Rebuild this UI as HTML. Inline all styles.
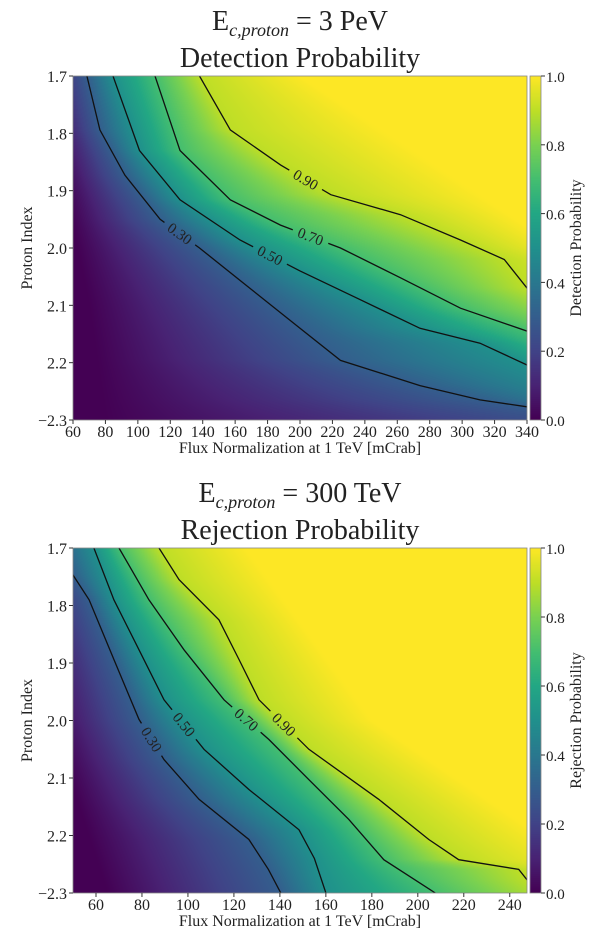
<!DOCTYPE html>
<html><head><meta charset="utf-8">
<style>
body{margin:0;background:#fff;width:600px;height:944px;overflow:hidden;font-family:"Liberation Serif",serif;}
svg text{font-family:"Liberation Serif",serif;fill:#222;}
</style></head>
<body>
<div style="position:relative;width:600px;height:944px;">
<canvas id="c1" width="454" height="344" style="position:absolute;left:73px;top:76px;"></canvas>
<canvas id="c2" width="454" height="345" style="position:absolute;left:73px;top:548px;"></canvas>
<canvas id="cb1" width="11" height="344" style="position:absolute;left:530px;top:76px;"></canvas>
<canvas id="cb2" width="11" height="345" style="position:absolute;left:530px;top:548px;"></canvas>
<svg id="ov" width="600" height="944" style="position:absolute;left:0;top:0;"></svg>
</div>
<script>
// ---- data: contour positions (proton index -> flux) ----
const levels=[0.30,0.50,0.70,0.90];
const topIdx30=[1.7,1.794,1.873,1.95,2.0,2.07,2.14,2.196,2.24,2.265,2.277,2.3];
const topFlux30=[68.6,76.6,92,113.7,138,169,200,225,274,311,340,400];
const topIdx50=[1.7,1.83,1.916,1.986,2.04,2.09,2.14,2.166,2.204,2.3];
const topFlux50=[84.7,101,126,163,200,237,274,311,340,420];
const topIdx70=[1.7,1.83,1.916,1.96,2.0,2.052,2.105,2.145,2.3];
const topFlux70=[110.6,126,157,188,225,262,299,340,450];
const topIdx90=[1.7,1.794,1.855,1.907,1.942,1.986,2.02,2.07,2.3];
const topFlux90=[138,157,188,219,262,299,326,340,520];
const topIdx0=[1.7,1.9,2.1,2.3];
const topFlux0=[40,55,70,80];
const topIdx1=[1.7,2.0,2.3];
const topFlux1=[200,360,700];

const botIdx30=[1.7,1.747,1.79,1.894,1.998,2.068,2.137,2.207,2.259,2.3];
const botFlux30=[45,50,57,67.8,78.7,89.6,104.8,126.5,135,140.4];
const botIdx50=[1.7,1.79,1.877,1.964,2.05,2.12,2.19,2.24,2.3];
const botFlux50=[59.1,67.8,78.7,89.6,107,126.5,148.3,155,160];
const botIdx70=[1.7,1.79,1.877,1.964,2.033,2.103,2.172,2.242,2.3];
const botFlux70=[70,83,98.3,115.7,135.2,152.6,170,185.2,207.6];
const botIdx90=[1.7,1.755,1.825,1.894,1.964,2.05,2.137,2.207,2.242,2.259,2.277,2.3];
const botFlux90=[87.4,96.1,113.5,122.2,130.9,152.6,183,204.8,217.8,243.9,247.5,255];
const botIdx0=[1.7,2.0,2.3];
const botFlux0=[25,40,65];
const botIdx1=[1.7,2.0,2.3];
const botFlux1=[125,180,290];

const topXTicks=[60,80,100,120,140,160,180,200,220,240,260,280,300,320,340];
const botXTicks=[60,80,100,120,140,160,180,200,220,240];
const yTicks=[1.7,1.8,1.9,2.0,2.1,2.2,2.3];
const yTickLabels=["1.7","1.8","1.9","2.0","2.1","2.2","\u22122.3"];
const cbTicks=[0,0.2,0.4,0.6,0.8,1.0];
const cbLabels=["0.0","0.2","0.4","0.6","0.8","1.0"];

const VIR=[[68,1,84],[72,35,116],[64,67,135],[52,94,141],[41,120,142],[32,144,140],[34,167,132],[68,190,112],[121,209,81],[189,222,38],[253,231,37]];
function vir(t){t=Math.max(0,Math.min(1,t));const s=t*10,i=Math.min(9,Math.floor(s)),f=s-i;const a=VIR[i],b=VIR[i+1];return [0,1,2].map(k=>Math.round(a[k]+(b[k]-a[k])*f));}
function interp(xs,ys,x){if(x<=xs[0])return ys[0]+(ys[1]-ys[0])*(x-xs[0])/(xs[1]-xs[0]);const n=xs.length;if(x>=xs[n-1])return ys[n-1];for(let i=0;i<n-1;i++)if(x<=xs[i+1])return ys[i]+(ys[i+1]-ys[i])*(x-xs[i])/(xs[i+1]-xs[i]);}
const NS='http://www.w3.org/2000/svg';
const ov=document.getElementById('ov');
function mk(tag,attrs,txt){const e=document.createElementNS(NS,tag);for(const k in attrs)e.setAttribute(k,attrs[k]);if(txt!==undefined)e.textContent=txt;return e;}
function el(tag,attrs,txt){const e=mk(tag,attrs,txt);ov.appendChild(e);return e;}

function panel(cfg){
  const {canvas,cb,left,top,w,h,xmin,xmax,contours,p0,p1,xTicks,title1,title2,cbTitle,labelIdx}=cfg;
  const sx=f=>left+(f-xmin)/(xmax-xmin)*w;
  const sy=v=>top+(v-1.7)/0.6*h;
  const ctx=document.getElementById(canvas).getContext('2d');
  const img=ctx.createImageData(w,h);
  for(let py=0;py<h;py++){
    const idx=1.7+(py+0.5)/h*0.6;
    const xs=[interp(p0[0],p0[1],idx)];const ps=[0];
    contours.forEach((c,i)=>{xs.push(interp(c[0],c[1],idx));ps.push(levels[i]);});
    xs.push(Math.max(interp(p1[0],p1[1],idx),xs[xs.length-1]+1));ps.push(1);
    for(let k=1;k<xs.length;k++)if(xs[k]<=xs[k-1])xs[k]=xs[k-1]+0.5;
    for(let px=0;px<w;px++){
      const f=xmin+(px+0.5)/w*(xmax-xmin);
      let p;
      if(f<=xs[0])p=0;else if(f>=xs[xs.length-1])p=1;
      else{for(let k=0;k<xs.length-1;k++)if(f<=xs[k+1]){p=ps[k]+(ps[k+1]-ps[k])*(f-xs[k])/(xs[k+1]-xs[k]);break;}}
      const c=vir(p);const o=(py*w+px)*4;img.data[o]=c[0];img.data[o+1]=c[1];img.data[o+2]=c[2];img.data[o+3]=255;
    }
  }
  ctx.putImageData(img,0,0);
  const cctx=document.getElementById(cb).getContext('2d');
  for(let y=0;y<h;y++){const c=vir(1-y/(h-1));cctx.fillStyle=`rgb(${c[0]},${c[1]},${c[2]})`;cctx.fillRect(0,y,11,1);}
  const cid='clip'+canvas, mid='mask'+canvas;
  const defs=el('defs',{});
  const cp=mk('clipPath',{id:cid});cp.appendChild(mk('rect',{x:left,y:top,width:w,height:h}));defs.appendChild(cp);
  const mask=mk('mask',{id:mid,maskUnits:'userSpaceOnUse',x:0,y:0,width:600,height:944});
  mask.appendChild(mk('rect',{x:0,y:0,width:600,height:944,fill:'#fff'}));
  defs.appendChild(mask);
  const g=el('g',{'clip-path':`url(#${cid})`});
  contours.forEach((c,i)=>{
    const pts=c[0].map((v,j)=>sx(c[1][j]).toFixed(1)+','+sy(v).toFixed(1)).join(' ');
    const pl=mk('polyline',{points:pts,fill:'none',stroke:'#111','stroke-width':1.3,mask:`url(#${mid})`});
    
    
    g.appendChild(pl);
    const j=labelIdx[i];const x0=sx(c[1][j]),y0=sy(c[0][j]),x1=sx(c[1][j+1]),y1=sy(c[0][j+1]);
    const mx=(x0+x1)/2,my=(y0+y1)/2;const ang=Math.atan2(y1-y0,x1-x0)*180/Math.PI;
    const tr=`rotate(${ang.toFixed(1)} ${mx.toFixed(1)} ${my.toFixed(1)})`;
    mask.appendChild(mk('rect',{x:mx-19,y:my-9,width:38,height:18,fill:'#000',transform:tr}));
    const t=el('text',{x:mx,y:my+5,'font-size':15,'text-anchor':'middle',transform:tr},levels[i].toFixed(2));
    
    
  });
  const fr=el('rect',{x:left,y:top,width:w,height:h,fill:'none',stroke:'#888','stroke-width':0.8});
  
  const cf=el('rect',{x:530,y:top,width:11,height:h,fill:'none',stroke:'#888','stroke-width':0.8});
  
  xTicks.forEach(v=>{const x=sx(v);el('line',{x1:x,y1:top+h,x2:x,y2:top+h+4,stroke:'#333'});
    const t=el('text',{x:x,y:top+h+17,'font-size':16,'text-anchor':'middle'},String(v));
    });
  yTicks.forEach((v,i)=>{const y=sy(v);el('line',{x1:left-4,y1:y,x2:left,y2:y,stroke:'#333'});
    const t=el('text',{x:left-6,y:y+6,'font-size':16,'text-anchor':'end'},yTickLabels[i]);
    });
  cbTicks.forEach((v,i)=>{const y=top+h-v*h;el('line',{x1:541,y1:y,x2:545,y2:y,stroke:'#333'});
    const t=el('text',{x:546,y:y+6,'font-size':15},cbLabels[i]);
    });
  const xl=el('text',{x:left+w/2,y:top+h+33,'font-size':16,'text-anchor':'middle'},'Flux Normalization at 1 TeV [mCrab]');
  
  const yl=el('text',{x:0,y:0,'font-size':16,'text-anchor':'middle',transform:`translate(32 ${top+h/2}) rotate(-90)`},'Proton Index');
  
  const cl=el('text',{x:0,y:0,'font-size':16,'text-anchor':'middle',transform:`translate(581 ${top+h/2}) rotate(-90)`},cbTitle);
  
  const t1=el('text',{x:300,y:top-46,'font-size':28,'text-anchor':'middle'});
  t1.innerHTML=`E<tspan font-size="18" font-style="italic" dy="6">c,proton</tspan><tspan dy="-6"> = ${title1}</tspan>`;
  
  const t2=el('text',{x:300,y:top-9,'font-size':28,'text-anchor':'middle'},title2);
  
}
panel({canvas:'c1',cb:'cb1',left:73,top:76,w:454,h:344,xmin:60,xmax:340,
  contours:[[topIdx30,topFlux30],[topIdx50,topFlux50],[topIdx70,topFlux70],[topIdx90,topFlux90]],
  p0:[topIdx0,topFlux0],p1:[topIdx1,topFlux1],xTicks:topXTicks,title1:'3 PeV',title2:'Detection Probability',
  cbTitle:'Detection Probability',labelIdx:[3,3,3,2]});
panel({canvas:'c2',cb:'cb2',left:73,top:548,w:454,h:345,xmin:50,xmax:247.5,
  contours:[[botIdx30,botFlux30],[botIdx50,botFlux50],[botIdx70,botFlux70],[botIdx90,botFlux90]],
  p0:[botIdx0,botFlux0],p1:[botIdx1,botFlux1],xTicks:botXTicks,title1:'300 TeV',title2:'Rejection Probability',
  cbTitle:'Rejection Probability',labelIdx:[4,3,3,4]});
</script>
</body></html>
